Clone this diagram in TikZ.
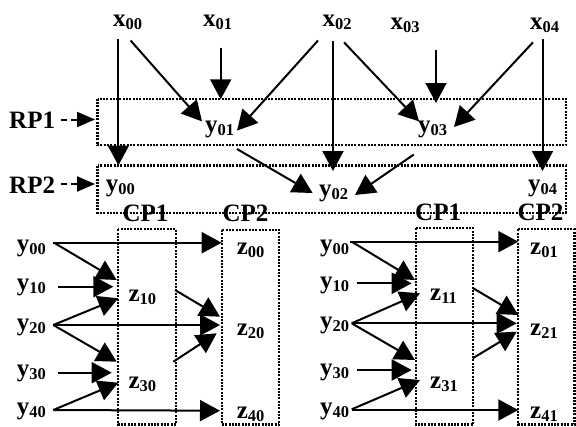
\documentclass[tikz,border=0pt]{standalone}
\usepackage{fontspec}
\setmainfont{Liberation Serif}
\usetikzlibrary{arrows.meta}
\newcommand\lbl[2]{#1\raisebox{-3pt}{\fontsize{16.5}{16.5}\selectfont #2}}
\begin{document}
\begin{tikzpicture}[x=1pt,y=-1pt,
  lab/.style={anchor=base west,inner sep=0pt,font=\fontsize{25}{25}\selectfont\bfseries},
  arr/.style={line width=2pt,-{Triangle[length=20pt,width=21pt]}},
  dbox/.style={line width=2.2pt,dash pattern=on 2pt off 1.3pt},
  rparr/.style={line width=2pt,dash pattern=on 6pt off 4pt,-{Triangle[length=18pt,width=15pt]}}]
\useasboundingbox (0,0) rectangle (576,426);
% boxes
\draw[dbox] (97.5,98.6) rectangle (566,145.3);
\draw[dbox] (97.5,165.5) rectangle (566,212.6);
\draw[dbox] (118.3,229.3) rectangle (176,424.5);
\draw[dbox] (221.7,230) rectangle (279.3,424.5);
\draw[dbox] (416,228.3) rectangle (473.3,424.5);
\draw[dbox] (518.3,229.3) rectangle (574.5,424.5);
% top labels
\node[lab] (x00) at (113,26) {\lbl{x}{00}};
\node[lab] (x01) at (203,26.5) {\lbl{x}{01}};
\node[lab] (x02) at (322.5,26.5) {\lbl{x}{02}};
\node[lab] (x03) at (390.5,29.4) {\lbl{x}{03}};
\node[lab] (x04) at (530,29.4) {\lbl{x}{04}};
\node[lab] (RP1) at (9,128.7) {RP1};
\node[lab] (RP2) at (9,193) {RP2};
\node[lab] (y01) at (205,132.4) {\lbl{y}{01}};
\node[lab] (y03) at (418,132.4) {\lbl{y}{03}};
\node[lab] (y00) at (105.6,191) {\lbl{y}{00}};
\node[lab] (y02) at (319,196.7) {\lbl{y}{02}};
\node[lab] (y04) at (528,191) {\lbl{y}{04}};
% RP arrows
\draw[rparr] (61,119.5) coordinate (rp1s) -- (95,119.5) coordinate (rp1e);
\draw[rparr] (61,184) coordinate (rp2s) -- (95,184) coordinate (rp2e);
% top arrows
\draw[arr] (118.4,38.6) coordinate (a1) -- (118.4,165.5) coordinate (b1);
\draw[arr] (130.6,40.5) coordinate (a2) -- (202,121.4) coordinate (b2);
\draw[arr] (220.7,47.8) coordinate (a3) -- (220.7,99.3) coordinate (b3);
\draw[arr] (318,40.5) coordinate (a4) -- (237,130.6) coordinate (b4);
\draw[arr] (333,40.5) coordinate (a5) -- (333,171) coordinate (b5);
\draw[arr] (344,42.3) coordinate (a6) -- (419,121.4) coordinate (b6);
\draw[arr] (436,49.7) coordinate (a7) -- (436,103) coordinate (b7);
\draw[arr] (533,42.3) coordinate (a8) -- (454,127) coordinate (b8);
\draw[arr] (542.5,38.6) coordinate (a9) -- (542.5,171) coordinate (b9);
\draw[arr] (237,149) coordinate (a10) -- (312.6,193) coordinate (b10);
\draw[arr] (413.8,154.5) coordinate (a11) -- (355,195) coordinate (b11);
% bottom left labels
\node[lab] (CP1L) at (122.3,221.7) {CP1};
\node[lab] (CP2L) at (222.3,221.7) {CP2};
\node[lab] (Ly00) at (16.7,251) {\lbl{y}{00}};
\node[lab] (Ly10) at (16.7,290) {\lbl{y}{10}};
\node[lab] (Ly20) at (16.7,330) {\lbl{y}{20}};
\node[lab] (Ly30) at (16.7,376.7) {\lbl{y}{30}};
\node[lab] (Ly40) at (16.7,414) {\lbl{y}{40}};
\node[lab] (z10) at (128.3,301.7) {\lbl{z}{10}};
\node[lab] (z30) at (128.3,388.3) {\lbl{z}{30}};
\node[lab] (z00) at (236.7,254) {\lbl{z}{00}};
\node[lab] (z20) at (236.7,335) {\lbl{z}{20}};
\node[lab] (z40) at (236.7,418.5) {\lbl{z}{40}};
\draw[arr] (53.3,242.7) coordinate (c1) -- (221.7,242.7) coordinate (d1);
\draw[arr] (55,243.3) coordinate (c2) -- (116.7,280) coordinate (d2);
\draw[arr] (58.3,286.7) coordinate (c3) -- (113.3,286.7) coordinate (d3);
\draw[arr] (53.3,325) coordinate (c4) -- (118.3,298.3) coordinate (d4);
\draw[arr] (53.3,325) coordinate (c5) -- (220,325) coordinate (d5);
\draw[arr] (53.3,325) coordinate (c6) -- (116.7,361.7) coordinate (d6);
\draw[arr] (58.3,372.7) coordinate (c7) -- (111.7,372.7) coordinate (d7);
\draw[arr] (53.3,410) coordinate (c8) -- (118.3,382.7) coordinate (d8);
\draw[arr] (53.3,410) coordinate (c9) -- (220,410.7) coordinate (d9);
\draw[arr] (175,290) coordinate (c10) -- (220,316.7) coordinate (d10);
\draw[arr] (173.3,361.7) coordinate (c11) -- (216.7,333.3) coordinate (d11);
% bottom right labels
\node[lab] (CP1R) at (415,220.7) {CP1};
\node[lab] (CP2R) at (517.3,220.7) {CP2};
\node[lab] (Ry00) at (320,251) {\lbl{y}{00}};
\node[lab] (Ry10) at (320,288.3) {\lbl{y}{10}};
\node[lab] (Ry20) at (320,328.3) {\lbl{y}{20}};
\node[lab] (Ry30) at (320,375) {\lbl{y}{30}};
\node[lab] (Ry40) at (320,414) {\lbl{y}{40}};
\node[lab] (z11) at (430,300) {\lbl{z}{11}};
\node[lab] (z31) at (430,388.3) {\lbl{z}{31}};
\node[lab] (z01) at (530,254) {\lbl{z}{01}};
\node[lab] (z21) at (530,335) {\lbl{z}{21}};
\node[lab] (z41) at (530,418.5) {\lbl{z}{41}};
\draw[arr] (350,241.7) coordinate (e1) -- (518.3,241.7) coordinate (f1);
\draw[arr] (351.7,241.7) coordinate (e2) -- (415,280) coordinate (f2);
\draw[arr] (356.7,283.3) coordinate (e3) -- (411.7,283.3) coordinate (f3);
\draw[arr] (351.7,323.3) coordinate (e4) -- (420,293.3) coordinate (f4);
\draw[arr] (351.7,323.3) coordinate (e5) -- (516.7,323.3) coordinate (f5);
\draw[arr] (351.7,323.3) coordinate (e6) -- (415,360) coordinate (f6);
\draw[arr] (356.7,370) coordinate (e7) -- (411.7,370) coordinate (f7);
\draw[arr] (351.7,409.3) coordinate (e8) -- (420,380) coordinate (f8);
\draw[arr] (351.7,410) coordinate (e9) -- (518.3,410) coordinate (f9);
\draw[arr] (473.3,288.3) coordinate (e10) -- (518.3,315) coordinate (f10);
\draw[arr] (472.7,358.3) coordinate (e11) -- (516.7,331.7) coordinate (f11);
\end{tikzpicture}
\end{document}
